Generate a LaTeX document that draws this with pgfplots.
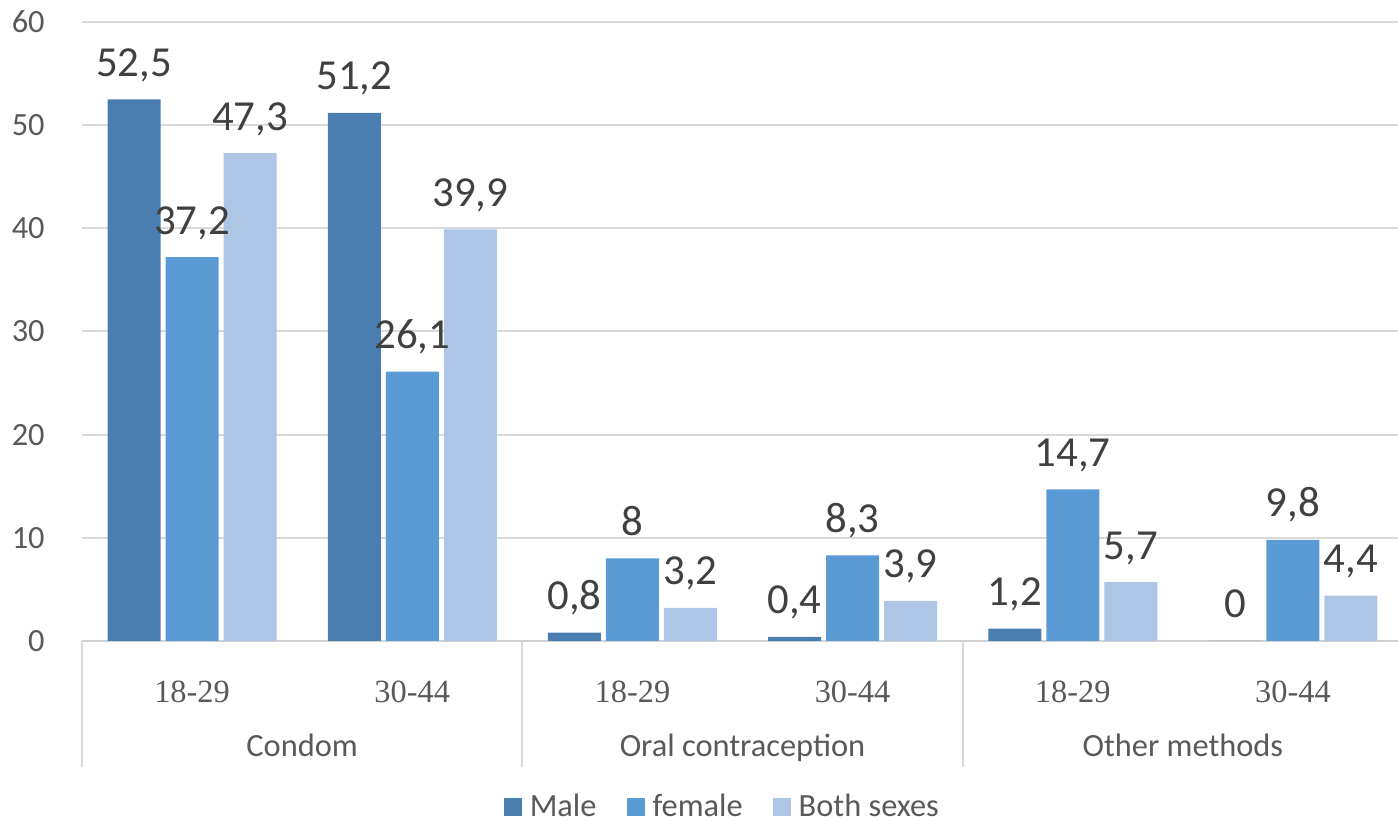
\documentclass[border=0pt]{standalone}
\usepackage{pgfplots}
\pgfplotsset{compat=1.18}
\usepackage{fontspec}
\setmainfont{Carlito}
\newfontfamily\serifcat{Liberation Serif}

\definecolor{male}{HTML}{4A7EB0}
\definecolor{female}{HTML}{5B9BD5}
\definecolor{both}{HTML}{ADC6E6}
\definecolor{gridc}{HTML}{D9D9D9}
\definecolor{axisc}{HTML}{D0D0D0}
\definecolor{txt}{HTML}{595959}
\definecolor{lbl}{HTML}{404040}

\newcommand{\smallfont}{\fontsize{16.2}{19}\selectfont}
\newcommand{\valfont}{\fontsize{21.4}{25}\selectfont}

\begin{document}
\begin{tikzpicture}
\useasboundingbox (0,0) rectangle (699pt,411pt);
\begin{axis}[
  at={(41pt,90.5pt)}, anchor=south west,
  scale only axis, width=660.5pt, height=309.5pt,
  ybar=2.5pt, bar width=26.5pt,
  legend image code/.code={\fill[#1] (0pt,-4.5pt) rectangle (9pt,4.5pt);},
  xmin=-0.5, xmax=5.5, ymin=0, ymax=60,
  enlargelimits=false, clip=false,
  xtick={0,...,5},
  xticklabels={18-29,30-44,18-29,30-44,18-29,30-44},
  ytick={0,10,...,60},
  axis x line*=bottom, axis y line*=left,
  x axis line style={draw=axisc, line width=1pt, -},
  y axis line style={draw=none},
  tick style={draw=none},
  ymajorgrids, grid style={draw=gridc, line width=1pt},
  /pgf/number format/assume math mode=true,
  /pgf/number format/use comma,
  /pgf/number format/fixed,
  /pgf/number format/precision=1,
  yticklabel style={font=\smallfont, text=txt, anchor=east, inner sep=0pt, xshift=-18.5pt},
  xticklabel style={font=\serifcat\smallfont, text=txt, anchor=base, inner sep=0pt, yshift=-26.5pt},
  nodes near coords,
  every node near coord/.append style={font=\valfont, text=lbl, anchor=base, inner sep=0pt, yshift=11.5pt},
  legend columns=3,
  legend style={draw=none, fill=none, at={(0.487,-0.268)}, anchor=center,
    font=\smallfont, text=txt,
    nodes={inner sep=4pt},
    /tikz/every even column/.append style={column sep=11pt}},
]
\addplot[fill=male, draw=none] coordinates {(0,52.5) (1,51.2) (2,0.8) (3,0.4) (4,1.2) (5,0)};
\addplot[fill=female, draw=none] coordinates {(0,37.2) (1,26.1) (2,8) (3,8.3) (4,14.7) (5,9.8)};
\addplot[fill=both, draw=none] coordinates {(0,47.3) (1,39.9) (2,3.2) (3,3.9) (4,5.7) (5,4.4)};
\legend{Male, female, Both sexes}

% category separators below the axis
\draw[gridc, line width=1pt] (axis cs:-0.5,0) -- ([yshift=-63pt]axis cs:-0.5,0);
\draw[gridc, line width=1pt] (axis cs:1.5,0) -- ([yshift=-63pt]axis cs:1.5,0);
\draw[gridc, line width=1pt] (axis cs:3.5,0) -- ([yshift=-63pt]axis cs:3.5,0);
% method names
\node[font=\smallfont, text=txt, anchor=base, yshift=-58pt] at (axis cs:0.5,0) {Condom};
\node[font=\smallfont, text=txt, anchor=base, yshift=-58pt] at (axis cs:2.5,0) {Oral contraception};
\node[font=\smallfont, text=txt, anchor=base, yshift=-58pt] at (axis cs:4.5,0) {Other methods};
\end{axis}
\end{tikzpicture}
\end{document}
